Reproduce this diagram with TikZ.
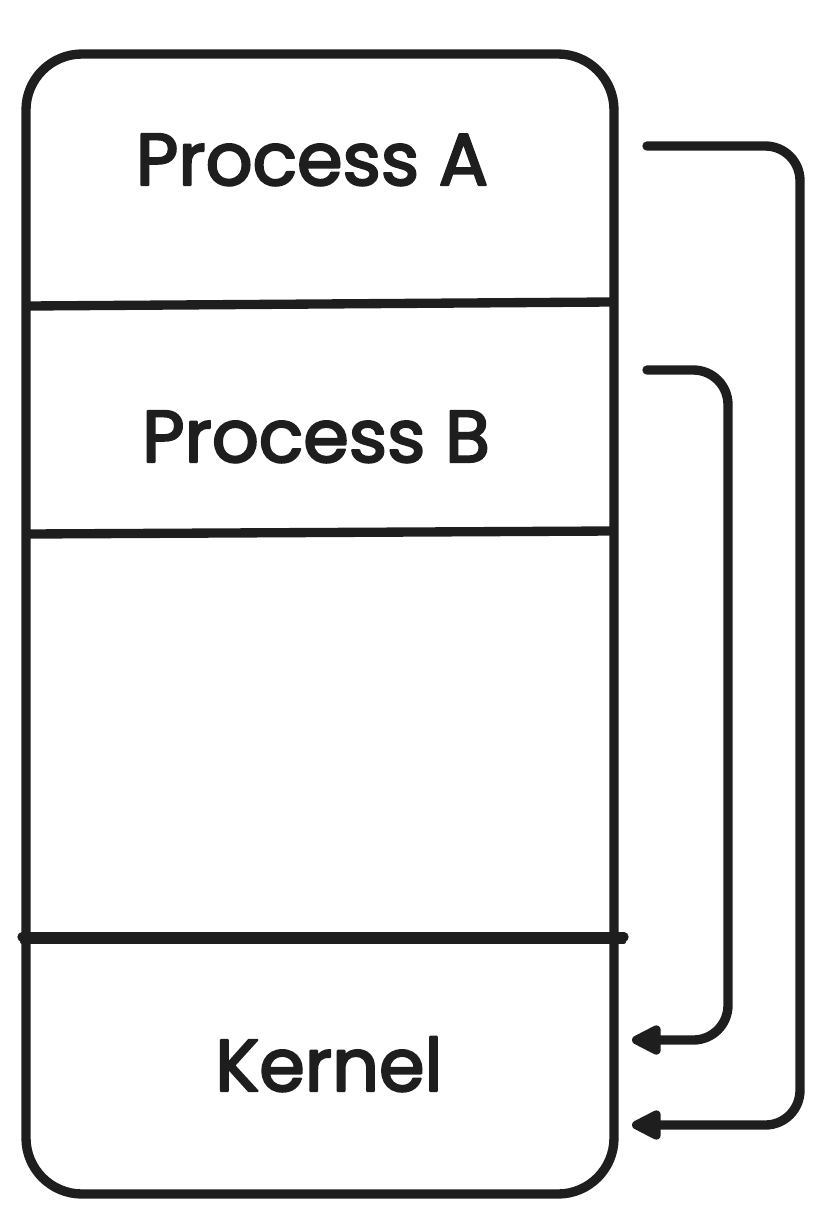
\documentclass[tikz,border=0pt]{standalone}
\usepackage{fontspec}
\setmainfont{Poppins}
\usetikzlibrary{arrows.meta}
\definecolor{ink}{HTML}{1E1E1E}
\begin{document}
\begin{tikzpicture}[x=0.75pt,y=-0.75pt,
  every path/.style={ink, line width=7pt, line cap=round, line join=round},
  label text/.style={font=\fontsize{55}{62}\selectfont\addfontfeature{FakeBold=3}, text=ink, inner sep=0pt, anchor=base},
  flow/.style={rounded corners=26pt, -{Triangle[length=26pt,width=24pt,round]}}]
\useasboundingbox (0,0) rectangle (819,1215);
\fill[white] (0,0) rectangle (819,1215);
% outer box
\draw[rounded corners=42pt] (26,54) rectangle (614,1194);
% separators
\coordinate (s1l) at (28,306); \coordinate (s1r) at (610,302);
\coordinate (s2l) at (28,534); \coordinate (s2r) at (612,531);
\coordinate (s3l) at (22,937); \coordinate (s3r) at (624,937);
\draw (s1l) -- (s1r);
\draw (s2l) -- (s2r);
\draw (s3l) -- (s3r);
\draw[line width=3pt] ([yshift=-3.5pt]s3l) -- ([yshift=-3.5pt]s3r);
% labels
\node[label text] (procA) at (312,185) {Process A};
\node[label text] (procB) at (316,462) {Process B};
\node[label text] (kernel) at (329,1091) {Kernel};
% arrows
\coordinate (aS) at (647,146);
\coordinate (aE) at (632,1125);
\coordinate (bS) at (647,370);
\coordinate (bE) at (632,1040);
\draw[flow] (aS) -- (800,146) -- (800,1125) -- (aE);
\draw[flow] (bS) -- (728,370) -- (728,1040) -- (bE);
\end{tikzpicture}
\end{document}
